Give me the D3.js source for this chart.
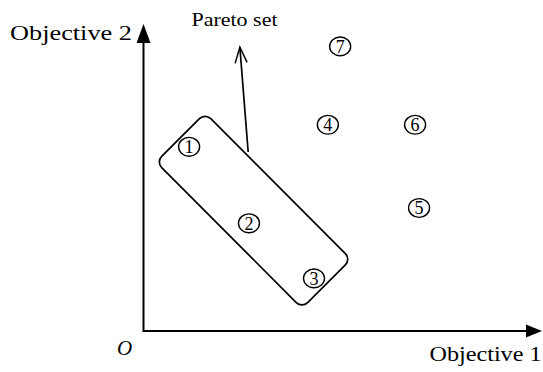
<!DOCTYPE html>
<html>
<head>
<meta charset="utf-8">
<script src="https://cdn.jsdelivr.net/npm/d3@7"></script>
<style>
  body { margin: 0; background: #fff; }
  text { font-family: "Liberation Serif", "Times New Roman", serif; fill: #000; }
</style>
</head>
<body>
<div id="chart"></div>
<script>
var width = 543;
var height = 372;

// solutions in objective space (obj1, obj2)
var labels = ["1", "2", "3", "4", "5", "6", "7"];
var obj1 = [1.15, 2.66, 4.30, 4.65, 6.95, 6.85, 4.96];
var obj2 = [6.02, 3.52, 1.72, 6.74, 4.02, 6.74, 9.30];

// corners of the pareto set box (top, right, bottom, left)
var boxObj1 = [1.55, 5.23, 4.00, 0.32];
var boxObj2 = [7.13, 2.35, 0.75, 5.52];

// pointer from the box to the "Pareto set" label
var pointerObj1 = [2.64, 2.43];
var pointerObj2 = [5.85, 9.28];

var xScale = d3.scaleLinear()
    .domain([0, 10])
    .range([143.5, 540]);

var yScale = d3.scaleLinear()
    .domain([0, 10])
    .range([331, 25]);

var svg = d3.select("#chart")
    .append("svg")
    .attr("width", width)
    .attr("height", height);

// axes
var x0 = xScale(0), y0 = yScale(0);

svg.append("line")
    .attr("x1", x0).attr("y1", y0)
    .attr("x2", 527).attr("y2", y0)
    .attr("stroke", "black")
    .attr("stroke-width", 2);

svg.append("path")
    .attr("d", "M" + 542 + "," + y0 + "L" + 526 + "," + (y0 - 6.5) + "L" + 526 + "," + (y0 + 6.5) + "Z")
    .attr("fill", "black");

svg.append("line")
    .attr("x1", x0).attr("y1", y0 + 1)
    .attr("x2", x0).attr("y2", 42)
    .attr("stroke", "black")
    .attr("stroke-width", 2);

svg.append("path")
    .attr("d", "M" + x0 + "," + 24 + "L" + (x0 - 7) + "," + 43 + "L" + (x0 + 7) + "," + 43 + "Z")
    .attr("fill", "black");

// axis labels
svg.append("text")
    .attr("x", 10)
    .attr("y", 40)
    .attr("font-size", 20)
    .attr("textLength", 122)
    .attr("lengthAdjust", "spacingAndGlyphs")
    .text("Objective 2");

svg.append("text")
    .attr("x", 429.5)
    .attr("y", 361)
    .attr("font-size", 20)
    .attr("textLength", 112)
    .attr("lengthAdjust", "spacingAndGlyphs")
    .text("Objective 1");

svg.append("text")
    .attr("x", 117)
    .attr("y", 355)
    .attr("font-size", 21)
    .attr("font-style", "italic")
    .text("O");

// pareto set box, a rounded rectangle through the four corners
var corners = boxObj1.map(function(d, k) {
    return [xScale(d), yScale(boxObj2[k])];
});
var cTop = corners[0], cRight = corners[1], cLeft = corners[3];
var cx = (cLeft[0] + cRight[0]) / 2;
var cy = (cLeft[1] + cRight[1]) / 2;
var boxLen = Math.hypot(cRight[0] - cTop[0], cRight[1] - cTop[1]);
var boxWid = Math.hypot(cTop[0] - cLeft[0], cTop[1] - cLeft[1]);
var angle = Math.atan2(cRight[1] - cTop[1], cRight[0] - cTop[0]) * 180 / Math.PI;

svg.append("rect")
    .attr("x", -boxLen / 2)
    .attr("y", -boxWid / 2)
    .attr("width", boxLen)
    .attr("height", boxWid)
    .attr("rx", 8)
    .attr("transform", "translate(" + cx + "," + cy + ") rotate(" + angle + ")")
    .attr("fill", "none")
    .attr("stroke", "black")
    .attr("stroke-width", 1.7);

// pointer arrow
var px1 = xScale(pointerObj1[0]), py1 = yScale(pointerObj2[0]);
var px2 = xScale(pointerObj1[1]), py2 = yScale(pointerObj2[1]);
var a = Math.atan2(py1 - py2, px1 - px2);

svg.append("line")
    .attr("x1", px1).attr("y1", py1)
    .attr("x2", px2).attr("y2", py2)
    .attr("stroke", "black")
    .attr("stroke-width", 1.7);

svg.append("path")
    .attr("d", "M" + (px2 + 17 * Math.cos(a - 0.36)) + "," + (py2 + 17 * Math.sin(a - 0.36)) +
        "L" + px2 + "," + py2 +
        "L" + (px2 + 17 * Math.cos(a + 0.36)) + "," + (py2 + 17 * Math.sin(a + 0.36)))
    .attr("fill", "none")
    .attr("stroke", "black")
    .attr("stroke-width", 1.5);

svg.append("text")
    .attr("x", 191.5)
    .attr("y", 25.5)
    .attr("font-size", 19)
    .attr("textLength", 86)
    .attr("lengthAdjust", "spacingAndGlyphs")
    .text("Pareto set");

// circled solution numbers
var points = svg.selectAll("g.point")
    .data(labels)
    .enter()
    .append("g")
    .attr("class", "point")
    .attr("transform", function(d, k) {
        return "translate(" + xScale(obj1[k]) + "," + yScale(obj2[k]) + ")";
    });

points.append("ellipse")
    .attr("rx", 10.5)
    .attr("ry", 9.4)
    .attr("fill", "none")
    .attr("stroke", "black")
    .attr("stroke-width", 1.4);

points.append("text")
    .attr("text-anchor", "middle")
    .attr("y", 6.3)
    .attr("font-size", 18)
    .text(function(d) { return d; });
</script>
</body>
</html>
